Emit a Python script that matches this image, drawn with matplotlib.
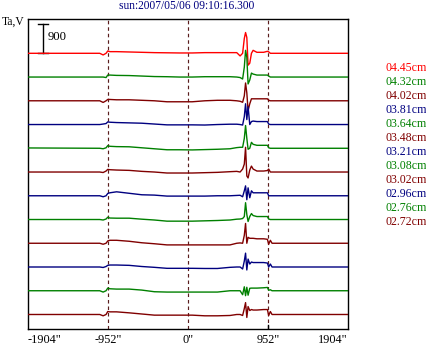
import matplotlib
matplotlib.use("Agg")
import matplotlib.pyplot as plt
import numpy as np

plt.rcParams['font.family'] = ['Liberation Serif', 'DejaVu Serif']

# scan positions (arcsec) where each trace is sampled
pos = [-1904, -1050, -1010, -975, -955, -930, -850, -700, -550, -400, -250, -100, 50, 200,
       350, 500, 580, 620, 650, 670, 685, 700, 715, 735, 755, 775, 820, 900, 945, 960, 980,
       1000, 1904]

# antenna temperature deviations per wavelength (top to bottom)
ta_445 = [0, 0, -50, 0, 70, 50, 50, 40, 30, 20, 15, 10, 10, 20, 20, 20, 20, -80, 0, 450, 630, 480, -360, -300, 0, 90, 30, 30, 60, 45, 0, 0, 0]
ta_432 = [0, 0, 0, -15, 60, 60, 50, 45, 30, 15, 10, 0, 0, 10, 10, 10, 0, -15, -60, 300, 810, 600, -210, -90, 120, 90, 60, 60, 60, 30, 0, 0, 0]
ta_402 = [0, 0, -50, 0, 40, 40, 30, 30, 15, 0, -30, -30, -30, 0, 15, 15, 0, -15, -45, 150, 540, 240, -300, -90, 60, 60, 60, 60, 60, 15, 0, 0, 0]
ta_381 = [0, 0, 15, 30, 80, 70, 60, 50, 40, 15, -10, -10, -10, -15, 0, 10, 10, 0, -15, 240, 630, 150, 540, 0, 90, 105, 90, 90, 90, 15, 0, 0, 0]
ta_364 = [10, 0, -15, 15, 80, 60, 50, 45, 15, -15, -45, -45, -50, -40, -30, -15, 20, 30, 30, 300, 690, 300, -30, 0, 180, 120, 90, 90, 90, 15, 0, 0, 0]
ta_348 = [0, 0, -15, 30, 80, 70, 60, 50, 20, 0, -30, -30, -30, -20, -10, 10, 20, 0, 90, 240, 750, -120, -180, 60, 180, 90, 30, 30, 45, 90, 0, 0, 0]
ta_321 = [0, 0, -30, 0, 70, 90, 120, 75, 30, 20, -10, -10, -10, -10, 0, 0, 10, 15, -30, 150, 300, -120, 240, -60, 150, 90, 90, 90, 90, 0, 0, 0, 0]
ta_308 = [0, 0, -15, 15, 70, 45, 40, 40, 10, -15, -50, -50, -50, -40, -30, -15, 10, 15, 30, 90, 510, 150, -60, 90, 180, 120, 90, 90, 90, 15, 0, 0, 0]
ta_302 = [0, 0, -30, 0, 70, 90, 90, 60, 15, -15, -50, -50, -50, -50, -50, -50, 0, 10, 0, 240, 600, 0, 180, 150, 150, 150, 135, 135, 120, -30, 90, 0, 0]
ta_296 = [0, 0, -15, 15, 50, 60, 60, 50, 15, -10, -40, -40, -40, -45, -45, -10, 0, 0, -60, 180, 420, -90, 240, 90, 150, 135, 135, 135, 120, 0, 90, 0, 0]
ta_276 = [0, 0, -40, 0, 80, 60, 50, 50, 20, -30, -40, -40, -40, -40, -40, 0, 0, 0, -120, 120, -150, 105, -135, 75, 80, 80, 80, 90, 100, 15, 30, 0, 0]
ta_272 = [0, 0, -40, 0, 90, 80, 80, 50, 15, -20, -20, -20, -20, -40, -40, -30, 0, 0, -30, 180, 360, -90, 240, 120, 150, 135, 135, 150, 150, -30, 90, 0, 0]

traces = [ta_445, ta_432, ta_402, ta_381, ta_364, ta_348, ta_321, ta_308, ta_302, ta_296, ta_276, ta_272]
labels = ["04.45cm", "04.32cm", "04.02cm", "03.81cm", "03.64cm", "03.48cm",
          "03.21cm", "03.08cm", "03.02cm", "02.96cm", "02.76cm", "02.72cm"]
colors = ["#ff0000"] + ["#008000", "#800000", "#000080"] * 3 + ["#008000", "#800000"]
xticks = [-1904, -952, 0, 952, 1904]
step = 720
bar = 900

fig = plt.figure(figsize=(4.26, 3.47), dpi=100)
ax = fig.add_axes([28 / 426, 18 / 347, 320 / 426, 310 / 347])

n = len(traces)
for i, (tr, c) in enumerate(zip(traces, colors)):
    off = (n - 1 - i) * step
    ax.plot(pos, np.array(tr) + off, color=c, lw=1.0, zorder=3)

# dashed reference lines
for xv in xticks[1:-1]:
    ax.axvline(xv, color="#5a1e1e", lw=0.85, ls=(0, (3, 2.5)), zorder=1)
ax.axvline(952, ymax=0.012, color="black", lw=1.0)

# scale bar
top_base = (n - 1) * step
ax.plot([-1722, -1722], [top_base, top_base + bar], color="black", lw=1.0)
ax.plot([-1782, -1662], [top_base, top_base], color="black", lw=1.0)
ax.plot([-1782, -1662], [top_base + bar, top_base + bar], color="black", lw=1.0)
ax.text(-1675, top_base + bar / 2 + 30, str(bar), fontsize=9.2, va="center", ha="left")

ax.set_xlim(-1904, 1904)
ax.set_ylim(-440, 8960)
ax.set_yticks([])
ax.set_xticks(xticks)
ax.set_xticklabels([f'{v}"' for v in xticks], fontsize=8.8)
ax.tick_params(axis="x", length=0, pad=3.5)
tl = ax.get_xticklabels()
tl[0].set_ha("left")
tl[-1].set_ha("right")
for s in ax.spines.values():
    s.set_linewidth(1.0)

fig.text(187 / 426, 1 - 6 / 347, "sun:2007/05/06 09:10:16.300", color="#000080",
         fontsize=8.3, ha="center", va="center")
fig.text(2 / 426, 1 - 21.5 / 347, "Ta,V", fontsize=8.3, ha="left", va="center")

for k, (lab, c) in enumerate(zip(labels, colors)):
    fig.text(385.5 / 426, 1 - (68 + 14 * k) / 347, lab, color=c, fontsize=8.6,
             ha="left", va="center")

fig.savefig("out.png", dpi=100)
